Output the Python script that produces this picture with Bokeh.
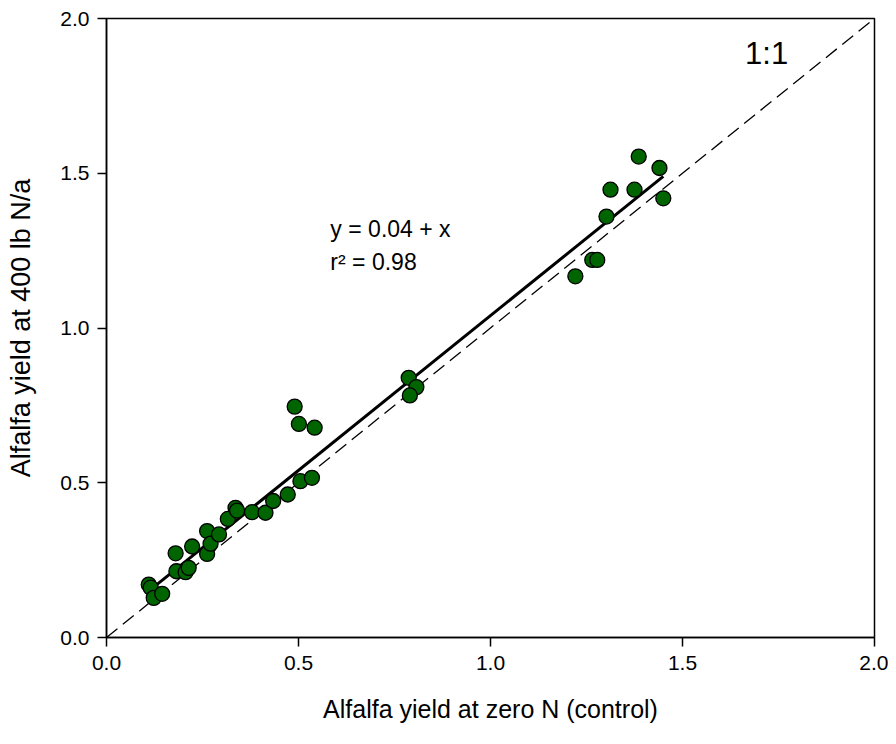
from bokeh.plotting import figure
from bokeh.models import Range1d, FixedTicker, NumeralTickFormatter, Label
from bokeh.embed import file_html
from bokeh.resources import INLINE

# Data: alfalfa yield at zero N (control) vs at 400 lb N/a
x_control = [0.110, 0.115, 0.123, 0.145, 0.180, 0.182, 0.206, 0.214, 0.223,
             0.262, 0.262, 0.271, 0.293, 0.316, 0.336, 0.340, 0.379, 0.414,
             0.434, 0.472, 0.505, 0.535, 0.490, 0.501, 0.542, 0.787, 0.807,
             0.790, 1.221, 1.265, 1.278, 1.302, 1.3125, 1.375, 1.386, 1.440,
             1.450]
y_400n = [0.171, 0.161, 0.128, 0.141, 0.272, 0.214, 0.211, 0.225, 0.294,
          0.344, 0.270, 0.303, 0.333, 0.383, 0.419, 0.410, 0.405, 0.403,
          0.441, 0.462, 0.505, 0.516, 0.746, 0.690, 0.678, 0.839, 0.809,
          0.782, 1.167, 1.220, 1.220, 1.360, 1.447, 1.447, 1.554, 1.517,
          1.419]

# Regression y = 0.04 + x over the data range, and 1:1 line
fit_intercept = 0.04
fit_x = [min(x_control), max(x_control)]
fit_y = [fit_intercept + v for v in fit_x]
one_to_one = [0.0, 2.0]

ticks = [0.0, 0.5, 1.0, 1.5, 2.0]
FONT = "Liberation Sans"

p = figure(width=888, height=732, output_backend="svg", toolbar_location=None,
           x_range=Range1d(0, 2), y_range=Range1d(0, 2),
           min_border_left=106, min_border_top=18, min_border_right=14,
           min_border_bottom=95)
p.grid.visible = False
p.outline_line_color = "black"
p.outline_line_width = 1.5
p.background_fill_color = "white"
p.border_fill_color = "white"

for ax in (p.xaxis[0], p.yaxis[0]):
    ax.ticker = FixedTicker(ticks=ticks)
    ax.formatter = NumeralTickFormatter(format="0.0")
    ax.minor_tick_line_color = None
    ax.major_tick_out = 9
    ax.major_tick_in = 0
    ax.major_tick_line_color = "black"
    ax.major_tick_line_width = 1.5
    ax.axis_line_color = "black"
    ax.axis_line_width = 1.5
    ax.major_label_text_font = FONT
    ax.major_label_text_font_size = "21px"
    ax.major_label_text_color = "black"
    ax.axis_label_text_font = FONT
    ax.axis_label_text_font_style = "normal"
    ax.axis_label_text_color = "black"

p.xaxis.axis_label = "Alfalfa yield at zero N (control)"
p.yaxis.axis_label = "Alfalfa yield at 400 lb N/a"
p.xaxis.axis_label_text_font_size = "25px"
p.yaxis.axis_label_text_font_size = "27px"
p.xaxis.major_label_standoff = 9
p.xaxis.axis_label_standoff = 22
p.yaxis.major_label_standoff = 8
p.yaxis.axis_label_standoff = 21

p.line(one_to_one, one_to_one, line_color="black", line_width=1.3,
       line_dash="14 7")
p.line(fit_x, fit_y, line_color="black", line_width=3)
p.scatter(x_control, y_400n, size=15, marker="circle",
          fill_color="#006400", line_color="black", line_width=1.3)

p.add_layout(Label(x=1.719, y=1.887, text="1:1", text_font=FONT,
                   text_font_size="31px", text_align="center",
                   text_baseline="middle", text_color="black"))
p.add_layout(Label(x=0.583, y=1.321, text="y = 0.04 + x", text_font=FONT,
                   text_font_size="23px", text_align="left",
                   text_baseline="middle", text_color="black"))
p.add_layout(Label(x=0.583, y=1.212, text="r\u00b2 = 0.98", text_font=FONT,
                   text_font_size="23px", text_align="left",
                   text_baseline="middle", text_color="black"))

open("out.html", "w").write(file_html(p, INLINE))
